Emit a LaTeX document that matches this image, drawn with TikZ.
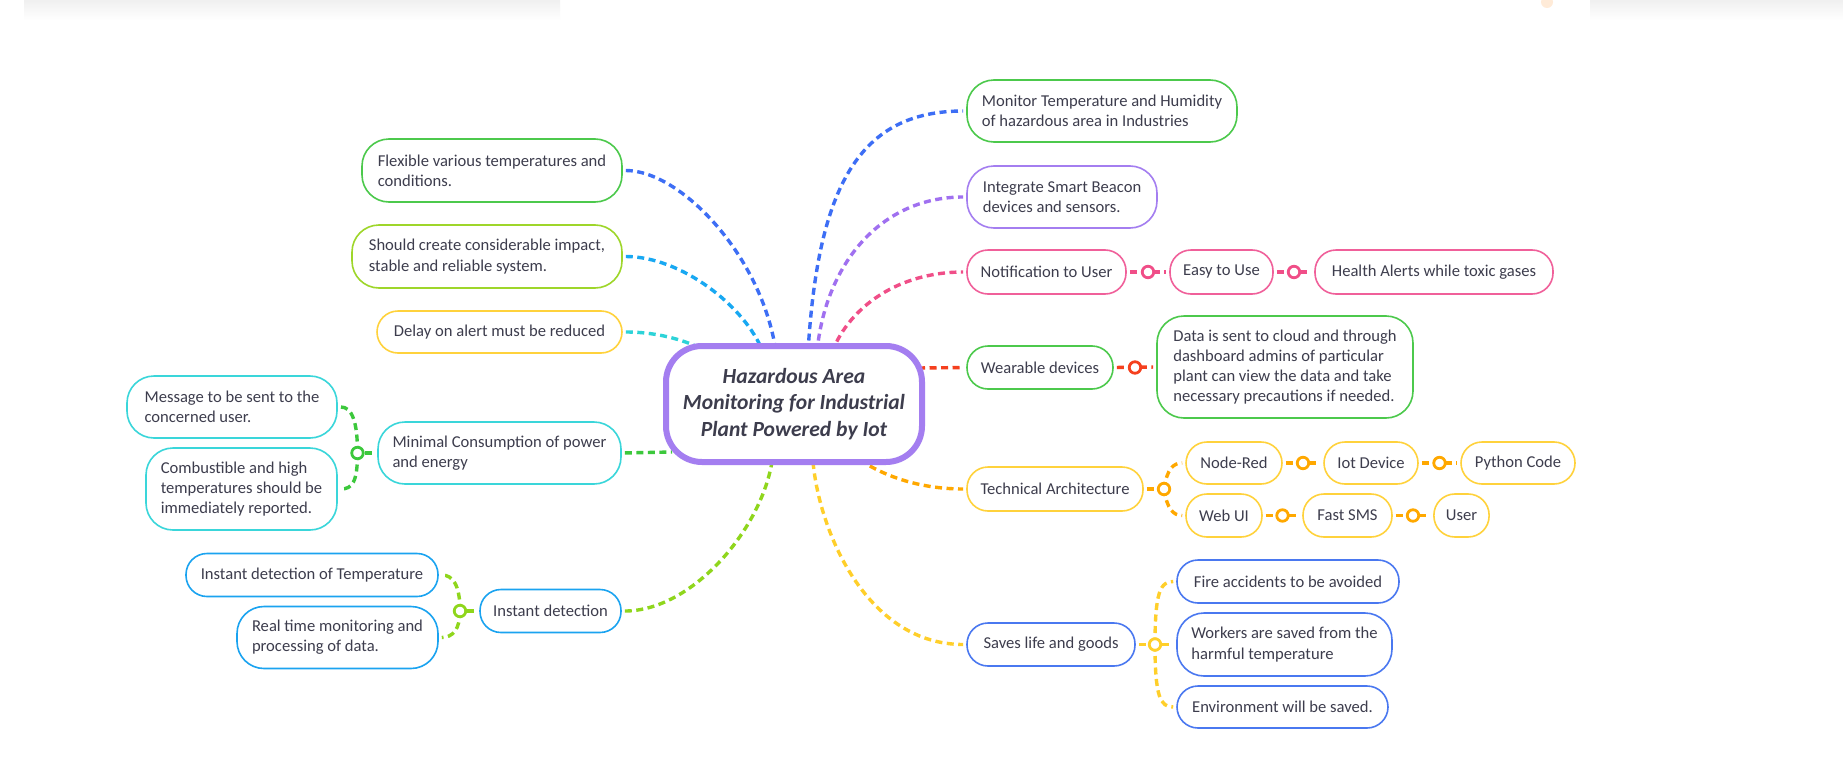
\documentclass[tikz,border=0pt]{standalone}
\usepackage{fontspec}
\setmainfont{Carlito}
\usetikzlibrary{backgrounds}
\definecolor{txt}{HTML}{3D3D4D}
\definecolor{cgreen}{HTML}{4CC94C}
\definecolor{clime}{HTML}{9ED62A}
\definecolor{cyellow}{HTML}{FFD23C}
\definecolor{cteal}{HTML}{3AD6DA}
\definecolor{csky}{HTML}{1AA3F0}
\definecolor{cpurple}{HTML}{A47EF0}
\definecolor{cpink}{HTML}{F0609A}
\definecolor{cblue}{HTML}{4A78F0}
\definecolor{lblue}{HTML}{3D6EF5}
\definecolor{lsky}{HTML}{18A8F2}
\definecolor{lturq}{HTML}{2DD3D8}
\definecolor{lgreen}{HTML}{3CC83C}
\definecolor{llime}{HTML}{8FD61C}
\definecolor{lpurple}{HTML}{A070F0}
\definecolor{lpink}{HTML}{F04E88}
\definecolor{lred}{HTML}{F5401E}
\definecolor{lorange}{HTML}{FFA800}
\definecolor{lyellow}{HTML}{FFCF2A}
\tikzset{
  box/.style={draw=#1, line width=1.6pt, rounded corners=27pt, fill=white,
    inner xsep=12pt, inner ysep=3pt, text=txt, font=\fontsize{16.6}{20.2}\selectfont},
  pill/.style={box=#1, rounded corners=21pt},
  link/.style={draw=#1, line width=3.4pt, dash pattern=on 7pt off 4.5pt},
  knot/.style={circle, draw=#1, line width=2.8pt, fill=white, minimum size=11.5pt, inner sep=0pt},
  hub/.style={draw=cpurple, line width=6pt, rounded corners=36pt, fill=white,
    minimum width=256pt, minimum height=116pt, align=center, text=txt,
    font=\fontsize{21.6}{26.5}\selectfont\bfseries\itshape}
}
\begin{document}
\begin{tikzpicture}[x=1pt,y=-1pt]
\useasboundingbox (0,0) rectangle (1843,768);

% central
\node[hub] (c) at (794,404) {Hazardous Area\\Monitoring for Industrial\\Plant Powered by Iot};
\coordinate (cF) at (776,352);
\coordinate (cS) at (763,352);
\coordinate (cD) at (704,350);
\coordinate (cM) at (672,452);
\coordinate (cI) at (772,462);
\coordinate (cMon) at (808,352);
\coordinate (cInt) at (817,352);
\coordinate (cNot) at (832,352);
\coordinate (cW) at (918,368);
\coordinate (cT) at (860,460);
\coordinate (cSv) at (813,462);

% left side
\node[box=cgreen, minimum width=260pt, minimum height=63pt, align=left] (flex) at (492,170.5) {Flexible various temperatures and\\conditions.};
\node[box=clime, minimum width=270pt, minimum height=63pt, align=left] (should) at (487,256.5) {Should create considerable impact,\\stable and reliable system.};
\node[pill=cyellow, minimum width=245pt, minimum height=42pt, align=center] (delay) at (499.5,332) {Delay on alert must be reduced};
\node[box=cteal, minimum width=243pt, minimum height=62pt, align=left] (minimal) at (499.5,453) {Minimal Consumption of power\\and energy};
\node[box=cteal, minimum width=210pt, minimum height=62pt, align=left] (message) at (232,407) {Message to be sent to the\\concerned user.};
\node[box=cteal, minimum width=191pt, minimum height=82pt, align=left] (combust) at (241.5,489) {Combustible and high\\temperatures should be\\immediately reported.};
\node[pill=csky, minimum width=141pt, minimum height=43pt, align=center] (instant) at (550.5,611) {Instant detection};
\node[pill=csky, minimum width=252pt, minimum height=43pt, align=center] (temp) at (312,575) {Instant detection of Temperature};
\node[box=csky, minimum width=201pt, minimum height=62pt, align=left] (realtime) at (337.5,637.5) {Real time monitoring and\\processing of data.};
\node[knot=lgreen] (kM) at (357.5,453) {};
\node[knot=llime] (kI) at (460,611) {};

% right side
\node[box=cgreen, minimum width=270pt, minimum height=62pt, align=left] (monitor) at (1102,111) {Monitor Temperature and Humidity\\of hazardous area in Industries};
\node[box=cpurple, minimum width=190pt, minimum height=62pt, align=left] (integrate) at (1062,197) {Integrate Smart Beacon\\devices and sensors.};
\node[pill=cpink, minimum width=159pt, minimum height=44pt, align=center] (notif) at (1046.5,272) {Notification to User};
\node[pill=cpink, minimum width=103pt, minimum height=44pt, align=center] (easy) at (1221.5,272) {Easy to Use};
\node[pill=cpink, minimum width=238pt, minimum height=44pt, align=center] (health) at (1434,272) {Health Alerts while toxic gases};
\node[knot=lpink] (kN1) at (1148,272) {};
\node[knot=lpink] (kN2) at (1294,272) {};
\node[pill=cgreen, minimum width=146pt, minimum height=43pt, align=center] (wear) at (1040,367.5) {Wearable devices};
\node[box=cgreen, minimum width=256pt, minimum height=102pt, align=left] (data) at (1285,367) {Data is sent to cloud and through\\dashboard admins of particular\\plant can view the data and take\\necessary precautions if needed.};
\node[knot=lred] (kW) at (1135,367.5) {};
\node[pill=cyellow, minimum width=176pt, minimum height=44pt, align=center] (tech) at (1055,489) {Technical Architecture};
\node[knot=lorange] (kT) at (1164,489) {};
\node[pill=cyellow, minimum width=96pt, minimum height=42pt, align=center] (nodered) at (1234,463) {Node-Red};
\node[pill=cyellow, minimum width=94pt, minimum height=42pt, align=center] (iot) at (1371,463) {Iot Device};
\node[pill=cyellow, minimum width=114pt, minimum height=42pt, align=center] (python) at (1518,463) {Python Code};
\node[knot=lorange] (kT1) at (1303,463) {};
\node[knot=lorange] (kT2) at (1439.5,463) {};
\node[pill=cyellow, minimum width=76pt, minimum height=43pt, align=center] (webui) at (1224,515.5) {Web UI};
\node[pill=cyellow, minimum width=89pt, minimum height=43pt, align=center] (fastsms) at (1347.5,515.5) {Fast SMS};
\node[pill=cyellow, minimum width=55pt, minimum height=43pt, align=center] (user) at (1461.5,515.5) {User};
\node[knot=lorange] (kT3) at (1282.5,515.5) {};
\node[knot=lorange] (kT4) at (1413,515.5) {};
\node[pill=cblue, minimum width=168pt, minimum height=43pt, align=center] (saves) at (1051,644.5) {Saves life and goods};
\node[knot=lyellow] (kSv) at (1155,644.5) {};
\node[pill=cblue, minimum width=222pt, minimum height=43pt, align=center] (fire) at (1288,581.5) {Fire accidents to be avoided};
\node[box=cblue, minimum width=215pt, minimum height=63pt, align=left] (workers) at (1284.5,644.5) {Workers are saved from the\\harmful temperature};
\node[pill=cblue, minimum width=211pt, minimum height=42pt, align=center] (env) at (1282.5,707) {Environment will be saved.};

\begin{scope}[on background layer]
\fill[white] (0,0) rectangle (1843,768);
\shade[top color=black!6, bottom color=white] (24,0) rectangle (560,20);
\shade[top color=black!6, bottom color=white] (1590,0) rectangle (1843,20);
\fill[orange!25, opacity=0.6] (1547,2) circle (6);
% main branches
\draw[link=lblue, shorten <=3pt] (flex.east) .. controls +(58,0) and +(-14,-96) .. (cF);
\draw[link=lsky, shorten <=3pt] (should.east) .. controls +(58,0) and +(-18,-46) .. (cS);
\draw[link=lturq, shorten <=3pt] (delay.east) .. controls +(38,0) and +(-15,-8) .. (cD);
\draw[link=lgreen, shorten <=3pt] (minimal.east) -- (cM);
\draw[link=llime, shorten <=3pt] (instant.east) .. controls +(69,0) and +(-12,70) .. (cI);
\draw[link=lblue, shorten >=3pt] (cMon) .. controls +(10,-166) and +(-107,0) .. (monitor.west);
\draw[link=lpurple, shorten >=3pt] (cInt) .. controls +(8,-86) and +(-87,0) .. (integrate.west);
\draw[link=lpink, shorten >=3pt] (cNot) .. controls +(18,-46) and +(-67,0) .. (notif.west);
\draw[link=lred, shorten >=3pt] (cW) -- (wear.west);
\draw[link=lorange, shorten >=3pt] (cT) .. controls +(32,21) and +(-37,0) .. (tech.west);
\draw[link=lyellow, shorten >=3pt] (cSv) .. controls +(7,74) and +(-97,0) .. (saves.west);
% sub branches
\draw[link=lgreen, shorten >=2pt] (kM) -- (minimal.west);
\draw[link=lgreen, shorten >=3pt] (kM.center) .. controls +(0,-32) and +(14,0) .. (message.east);
\draw[link=lgreen, shorten >=3pt] (kM.center) .. controls +(0,30) and +(14,0) .. (combust.east);
\draw[link=llime, shorten >=2pt] (kI) -- (instant.west);
\draw[link=llime, shorten >=3pt] (kI.center) .. controls +(0,-26) and +(14,0) .. (temp.east);
\draw[link=llime, shorten >=3pt] (kI.center) .. controls +(0,18) and +(14,0) .. (realtime.east);
\draw[link=lpink, shorten <=3pt, shorten >=3pt] (notif.east) -- (easy.west);
\draw[link=lpink, shorten <=3pt, shorten >=3pt] (easy.east) -- (health.west);
\draw[link=lred, shorten <=3pt, shorten >=3pt] (wear.east) -- (data.west);
\draw[link=lorange, shorten <=3pt] (tech.east) -- (kT);
\draw[link=lorange, shorten >=3pt] (kT.center) .. controls +(3,-20) and +(-12,0) .. (nodered.west);
\draw[link=lorange, shorten >=3pt] (kT.center) .. controls +(3,20) and +(-12,0) .. (webui.west);
\draw[link=lorange, shorten <=3pt, shorten >=3pt] (nodered.east) -- (iot.west);
\draw[link=lorange, shorten <=3pt, shorten >=3pt] (iot.east) -- (python.west);
\draw[link=lorange, shorten <=3pt, shorten >=3pt] (webui.east) -- (fastsms.west);
\draw[link=lorange, shorten <=3pt, shorten >=3pt] (fastsms.east) -- (user.west);
\draw[link=lyellow, shorten <=3pt] (saves.east) -- (kSv);
\draw[link=lyellow, shorten >=3pt] (kSv.center) .. controls +(0,-52) and +(-16,0) .. (fire.west);
\draw[link=lyellow, shorten >=3pt] (kSv) -- (workers.west);
\draw[link=lyellow, shorten >=3pt] (kSv.center) .. controls +(0,52) and +(-16,0) .. (env.west);
\end{scope}
\end{tikzpicture}
\end{document}
